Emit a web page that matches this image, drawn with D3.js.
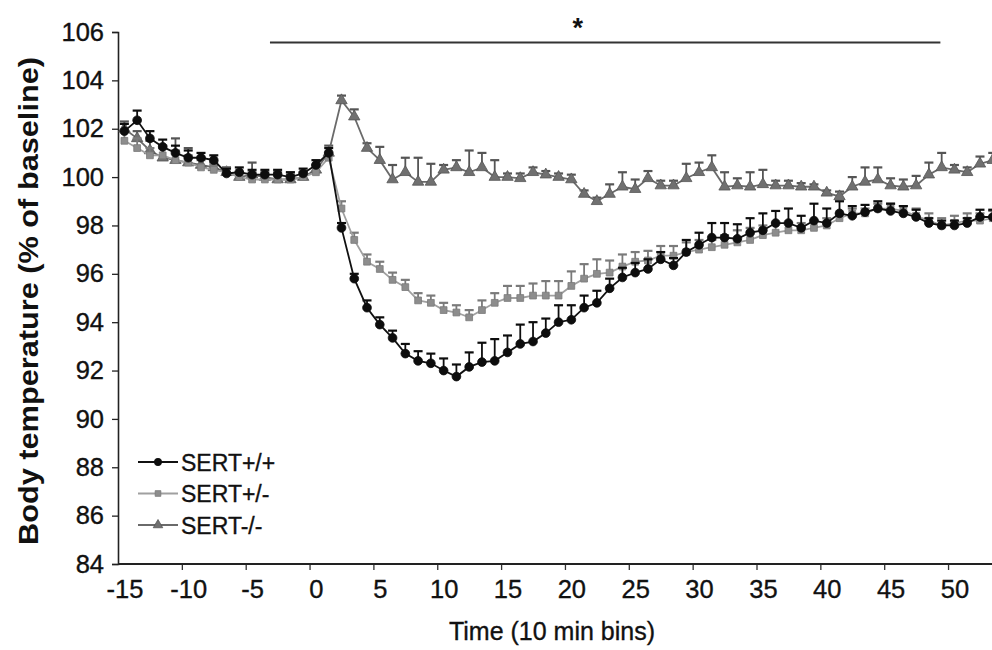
<!DOCTYPE html>
<html>
<head>
<meta charset="utf-8">
<script src="https://cdn.jsdelivr.net/npm/d3@7/dist/d3.min.js"></script>
<style>
  html, body { margin: 0; padding: 0; background: #fff; }
  svg { display: block; font-family: "Liberation Sans", Arial, sans-serif; }
</style>
</head>
<body>
<svg id="chart" width="992" height="650"></svg>
<script>
// Time bins (10 min each), relative to injection at bin 0
const bins = d3.range(-15, 54);

// Body temperature, % of baseline (mean)
const wildType = [
  101.9, 102.35, 101.6, 101.25, 101.0, 100.8, 100.8, 100.7, 100.15, 100.2, 100.1, 100.1, 100.1, 100.0, 100.15,
  100.5, 101.0, 97.9, 95.8, 94.6, 93.9, 93.35, 92.7, 92.4, 92.3, 92.0, 91.75, 92.15, 92.35, 92.4,
  92.75, 93.1, 93.2, 93.55, 94.0, 94.1, 94.6, 94.8, 95.4, 95.85, 96.05, 96.2, 96.6, 96.35, 96.9,
  97.2, 97.5, 97.5, 97.45, 97.7, 97.8, 98.1, 98.1, 97.9, 98.2, 98.1, 98.5, 98.4, 98.55, 98.7,
  98.6, 98.5, 98.35, 98.1, 98.0, 98.0, 98.1, 98.35, 98.35
];
const heterozygous = [
  101.5, 101.2, 100.9, 100.9, 100.7, 100.6, 100.4, 100.3, 100.2, 100.0, 99.9, 99.9, 99.9, 99.9, 100.0,
  100.2, 100.8, 98.7, 97.4, 96.5, 96.2, 95.75, 95.45, 94.9, 94.8, 94.5, 94.4, 94.2, 94.5, 94.8,
  95.0, 95.0, 95.1, 95.1, 95.1, 95.5, 95.8, 96.0, 96.05, 96.3, 96.5, 96.55, 96.75, 96.75, 96.9,
  97.0, 97.1, 97.2, 97.3, 97.4, 97.6, 97.7, 97.8, 97.8, 97.9, 98.0, 98.3, 98.5, 98.5, 98.7,
  98.7, 98.6, 98.4, 98.2, 98.0, 98.1, 98.2, 98.2, 98.3
];
const knockout = [
  102.0, 101.6, 101.1, 100.8, 100.7, 100.6, 100.5, 100.4, 100.2, 100.0, 100.1, 100.0, 99.9, 99.9, 100.0,
  100.3, 101.0, 103.17, 102.5, 101.2, 100.7, 99.9, 100.2, 99.8, 99.8, 100.3, 100.4, 100.2, 100.4, 100.0,
  100.0, 99.95, 100.2, 100.1, 100.0, 99.9, 99.3, 99.0, 99.3, 99.6, 99.5, 99.95, 99.65, 99.65, 99.95,
  100.2, 100.4, 99.6, 99.65, 99.6, 99.7, 99.65, 99.65, 99.6, 99.6, 99.35, 99.2, 99.6, 99.8, 99.9,
  99.65, 99.6, 99.65, 100.1, 100.4, 100.3, 100.2, 100.55, 100.7
];

// Standard error of the mean (drawn upward only)
const wildTypeErr = [
  0.3, 0.4, 0.3, 0.3, 0.3, 0.3, 0.2, 0.2, 0.2, 0.2, 0.2, 0.2, 0.2, 0.2, 0.2,
  0.2, 0.2, 0.2, 0.2, 0.3, 0.3, 0.3, 0.4, 0.4, 0.4, 0.5, 0.5, 0.6, 0.8, 0.9,
  0.7, 0.8, 0.8, 0.6, 0.7, 0.6, 0.5, 0.5, 0.4, 0.4, 0.4, 0.4, 0.3, 0.3, 0.5,
  0.5, 0.6, 0.6, 0.6, 0.6, 0.7, 0.5, 0.6, 0.5, 0.7, 0.6, 0.5, 0.4, 0.3, 0.3,
  0.3, 0.3, 0.3, 0.2, 0.2, 0.2, 0.2, 0.3, 0.3
];
const heterozygousErr = [
  0.4, 0.4, 0.3, 0.3, 0.4, 0.3, 0.3, 0.2, 0.2, 0.2, 0.3, 0.2, 0.2, 0.3, 0.2,
  0.2, 0.2, 0.3, 0.3, 0.3, 0.3, 0.3, 0.3, 0.3, 0.3, 0.3, 0.3, 0.3, 0.4, 0.4,
  0.5, 0.5, 0.5, 0.6, 0.6, 0.6, 0.6, 0.6, 0.5, 0.5, 0.4, 0.4, 0.4, 0.4, 0.4,
  0.4, 0.3, 0.4, 0.5, 0.5, 0.4, 0.4, 0.3, 0.3, 0.3, 0.3, 0.2, 0.2, 0.2, 0.2,
  0.2, 0.2, 0.3, 0.3, 0.3, 0.3, 0.3, 0.3, 0.3
];
const knockoutErr = [
  0.3, 0.3, 0.4, 0.5, 0.9, 0.6, 0.3, 0.2, 0.2, 0.2, 0.5, 0.2, 0.3, 0.2, 0.2,
  0.2, 0.3, 0.2, 0.3, 0.2, 0.55, 0.6, 0.6, 1.0, 0.75, 0.2, 0.3, 0.9, 0.6, 0.7,
  0.15, 0.2, 0.2, 0.15, 0.15, 0.2, 0.15, 0.15, 0.4, 0.6, 0.4, 0.3, 0.2, 0.2, 0.6,
  0.4, 0.5, 0.6, 0.3, 0.6, 0.6, 0.2, 0.2, 0.15, 0.1, 0.1, 0.2, 0.4, 0.6, 0.5,
  0.3, 0.3, 0.4, 0.5, 0.6, 0.2, 0.2, 0.3, 0.3
];

const yTicks = d3.range(84, 107, 2);
const xLabels = d3.range(-15, 51, 5);
const seriesNames = ["SERT+/+", "SERT+/-", "SERT-/-"];

// Significance bar (bin range) and the asterisk position
const sigSpan = [-3.6, 48.9];
const sigStarBin = 20.5;
const sigLevel = 105.57;

const svg = d3.select("#chart");
const plotLeft = 118, plotBottom = 564, plotTop = 32;

const x = d3.scaleLinear().domain([-15.5, 53]).range([plotLeft, plotLeft + 68.5 * 12.77]);
const y = d3.scaleLinear().domain([84, 106]).range([plotBottom, plotTop]);

const series = [
  { name: seriesNames[2], vals: knockout, err: knockoutErr, shape: "tri",
    line: "#6a6a6a", fill: "#707070", stroke: "#555" },
  { name: seriesNames[1], vals: heterozygous, err: heterozygousErr, shape: "sq",
    line: "#a0a0a0", fill: "#8d8d8d", stroke: "#7a7a7a" },
  { name: seriesNames[0], vals: wildType, err: wildTypeErr, shape: "circ",
    line: "#111", fill: "#0d0d0d", stroke: "#0d0d0d" }
];

const symbolFor = { circ: d3.symbolCircle, sq: d3.symbolSquare, tri: d3.symbolTriangle };
const sizeFor = { circ: 60, sq: 46, tri: 56 };

// Slightly heavier text, like the printed figure
function inkText(sel, size) {
  sel.attr("font-size", size).attr("fill", "#111").attr("stroke", "#111")
    .attr("stroke-width", 0.35).attr("font-family", "Liberation Sans, Arial, sans-serif");
}

// Axes
const yAxis = d3.axisLeft(y).tickValues(yTicks).tickSize(6).tickPadding(8)
  .tickFormat(d => String(d));
const gy = svg.append("g").attr("transform", `translate(${plotLeft},0)`).call(yAxis);
gy.select(".domain").attr("stroke", "#222").attr("stroke-width", 1.6);
gy.selectAll(".tick line").attr("stroke", "#222").attr("stroke-width", 1.3);
inkText(gy.selectAll(".tick text"), 25.5);

const gxLabels = d3.axisBottom(x).tickValues(xLabels).tickSize(0).tickPadding(16)
  .tickFormat(d => String(d));
const gx = svg.append("g").attr("transform", `translate(0,${plotBottom})`).call(gxLabels);
gx.select(".domain").remove();
inkText(gx.selectAll(".tick text"), 25.5);

const gxTicks = d3.axisBottom(x).tickValues(xLabels.slice(1).map(v => v - 0.5))
  .tickSize(6).tickFormat("");
const gt = svg.append("g").attr("transform", `translate(0,${plotBottom})`).call(gxTicks);
gt.select(".domain").remove();
gt.selectAll(".tick line").attr("stroke", "#333").attr("stroke-width", 1.3);

svg.append("line").attr("x1", plotLeft).attr("x2", 992).attr("y1", plotBottom).attr("y2", plotBottom)
  .attr("stroke", "#222").attr("stroke-width", 1.8);

// Axis titles
inkText(svg.append("text").attr("x", 552).attr("y", 640).attr("text-anchor", "middle")
  .text("Time (10 min bins)"), 25);
svg.append("text").attr("transform", "translate(38,301) rotate(-90)")
  .attr("text-anchor", "middle").attr("font-size", 28).attr("font-weight", "bold")
  .attr("fill", "#111").attr("textLength", 488).attr("lengthAdjust", "spacingAndGlyphs")
  .text("Body temperature (% of baseline)");

// Significance bar
svg.append("line").attr("x1", x(sigSpan[0])).attr("x2", x(sigSpan[1]))
  .attr("y1", y(sigLevel)).attr("y2", y(sigLevel)).attr("stroke", "#333").attr("stroke-width", 2);
svg.append("text").attr("x", x(sigStarBin)).attr("y", y(sigLevel) - 5).attr("text-anchor", "middle")
  .attr("font-size", 27).attr("font-weight", "bold").attr("fill", "#111").text("*");

// Series: error bars, line, markers
const plot = svg.append("g");
series.forEach(s => {
  const pts = bins.map((b, i) => ({ b, v: s.vals[i], e: s.err[i] }));
  const g = plot.append("g");
  const eb = g.selectAll("g.eb").data(pts).join("g");
  eb.append("line").attr("x1", d => x(d.b)).attr("x2", d => x(d.b))
    .attr("y1", d => y(d.v)).attr("y2", d => y(d.v + d.e))
    .attr("stroke", s.stroke).attr("stroke-width", 1.8);
  eb.append("line").attr("x1", d => x(d.b) - 4.5).attr("x2", d => x(d.b) + 4.5)
    .attr("y1", d => y(d.v + d.e)).attr("y2", d => y(d.v + d.e))
    .attr("stroke", s.stroke).attr("stroke-width", 2.2);
  g.append("path").datum(pts)
    .attr("d", d3.line().x(d => x(d.b)).y(d => y(d.v)))
    .attr("fill", "none").attr("stroke", s.line).attr("stroke-width", 1.8);
  g.selectAll("path.m").data(pts).join("path").attr("class", "m")
    .attr("transform", d => `translate(${x(d.b)},${y(d.v)})`)
    .attr("d", d3.symbol(symbolFor[s.shape], sizeFor[s.shape]))
    .attr("fill", s.fill).attr("stroke", s.stroke).attr("stroke-width", 0.8);
});

// Legend
const legend = svg.append("g");
const legendOrder = [series[2], series[1], series[0]];
legendOrder.forEach((s, i) => {
  const ly = 462 + i * 31.5;
  legend.append("line").attr("x1", 138).attr("x2", 178).attr("y1", ly).attr("y2", ly)
    .attr("stroke", s.line).attr("stroke-width", 1.8);
  legend.append("path").attr("transform", `translate(158,${ly})`)
    .attr("d", d3.symbol(symbolFor[s.shape], sizeFor[s.shape] * 0.7))
    .attr("fill", s.fill).attr("stroke", s.stroke).attr("stroke-width", 0.8);
  inkText(legend.append("text").attr("x", 181).attr("y", ly + 8.5).text(s.name), 23);
});
</script>
</body>
</html>
